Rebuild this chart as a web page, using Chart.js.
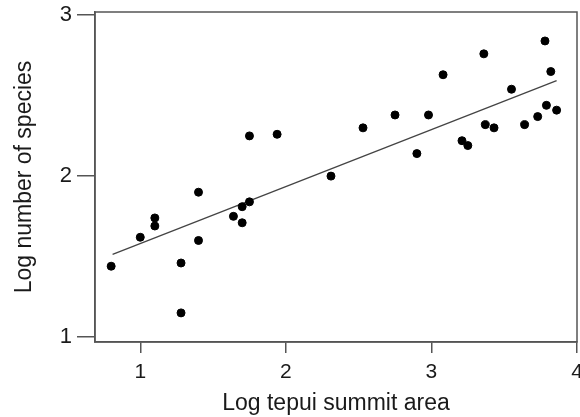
<!DOCTYPE html>
<html>
<head>
<meta charset="utf-8">
<script src="https://cdn.jsdelivr.net/npm/chart.js@4"></script>
<style>
html,body{margin:0;padding:0;background:#fff;overflow:hidden;width:580px;height:417px;}
#wrap{position:absolute;left:0;top:0;width:600px;height:417px;}
</style>
</head>
<body>
<div id="wrap"><canvas id="c" width="600" height="417"></canvas></div>
<script>
const areaX = [0.80,1.00,1.10,1.10,1.28,1.28,1.40,1.40,1.64,1.70,1.70,1.75,1.75,1.94,2.31,2.53,2.75,2.90,2.98,3.08,3.21,3.25,3.36,3.37,3.43,3.55,3.64,3.73,3.78,3.79,3.82,3.86];
const speciesY = [1.44,1.62,1.74,1.69,1.46,1.15,1.90,1.60,1.75,1.81,1.71,1.84,2.25,2.26,2.00,2.30,2.38,2.14,2.38,2.63,2.22,2.19,2.76,2.32,2.30,2.54,2.32,2.37,2.84,2.44,2.65,2.41];
const fitX = [0.81, 3.86];
const fitY = [1.514, 2.594];
const xTicks = [1,2,3,4];
const yTicks = [1,2,3];
const xTitle = 'Log tepui summit area';
const yTitle = 'Log number of species';

const boxPlugin = {
  id:'box',
  afterDraw(chart){
    const a = chart.chartArea, ctx = chart.ctx;
    ctx.save();
    ctx.strokeStyle = '#555';
    ctx.lineWidth = 1.5;
    ctx.strokeRect(a.left, a.top, a.right - a.left, a.bottom - a.top);
    ctx.restore();
  }
};

const FONT = "'Liberation Sans', Arial, sans-serif";
new Chart(document.getElementById('c'), {
  type:'scatter',
  data:{
    datasets:[
      {
        data: areaX.map((x,i)=>({x:x, y:speciesY[i]})),
        backgroundColor:'#000', borderColor:'#000',
        pointRadius:4, pointHoverRadius:4
      },
      {
        type:'line',
        data: fitX.map((x,i)=>({x:x, y:fitY[i]})),
        borderColor:'#444', borderWidth:1.3, pointRadius:0, fill:false
      }
    ]
  },
  options:{
    responsive:false, animation:false,
    layout:{padding:{top:12, right:23, left:0, bottom:0}},
    plugins:{legend:{display:false}, tooltip:{enabled:false}},
    scales:{
      x:{
        type:'linear', min:0.689, max:4,
        afterBuildTicks: s => { s.ticks = xTicks.map(v=>({value:v})); },
        afterFit: s => { s.height = 75; s.paddingLeft = 0; s.paddingRight = 0; },
        grid:{drawOnChartArea:false, drawTicks:true, tickLength:11, color:'#555', lineWidth:1.5},
        border:{display:true, color:'#555', width:1.5},
        ticks:{color:'#1a1a1a', font:{family:FONT, size:21}, padding:7, maxRotation:0},
        title:{display:true, text:xTitle, color:'#1a1a1a', font:{family:FONT, size:23}, padding:{top:0,bottom:0}}
      },
      y:{
        type:'linear', min:0.969, max:3.02,
        afterBuildTicks: s => { s.ticks = yTicks.map(v=>({value:v})); },
        afterFit: s => { s.width = 95; s.paddingTop = 0; s.paddingBottom = 0; },
        grid:{drawOnChartArea:false, drawTicks:true, tickLength:18, color:'#555', lineWidth:1.5},
        border:{display:true, color:'#555', width:1.5},
        ticks:{color:'#1a1a1a', font:{family:FONT, size:22}, padding:5},
        title:{display:true, text:yTitle, color:'#1a1a1a', font:{family:FONT, size:23}, padding:{top:11,bottom:0}}
      }
    }
  },
  plugins:[boxPlugin]
});
</script>
</body>
</html>
